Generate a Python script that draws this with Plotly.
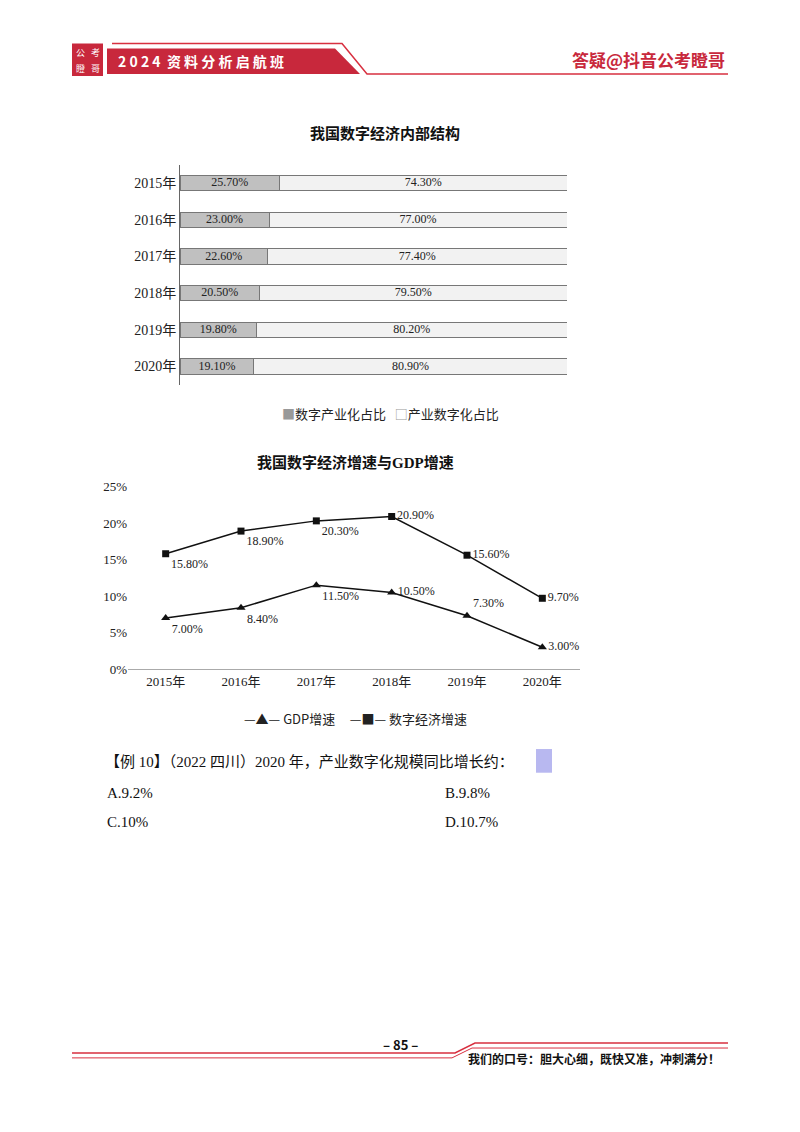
import plotly.graph_objects as go

years = ["2015年", "2016年", "2017年", "2018年", "2019年", "2020年"]
digital_industry = [25.7, 23.0, 22.6, 20.5, 19.8, 19.1]
industry_digital = [74.3, 77.0, 77.4, 79.5, 80.2, 80.9]
gdp_growth = [7.0, 8.4, 11.5, 10.5, 7.3, 3.0]
digital_growth = [15.8, 18.9, 20.3, 20.9, 15.6, 9.7]
gdp_pos = ["bottom right", "bottom right", "bottom right", "middle right", "top right", "middle right"]
dig_pos = ["bottom right", "bottom right", "bottom right", "middle right", "middle right", "middle right"]

W, H = 800, 1132
def px(x): return x / W
def py(y): return 1 - y / H

SERIF = "Liberation Serif, Noto Sans CJK SC"
SANS = "Noto Sans CJK SC"
fig = go.Figure()

fig.add_trace(go.Bar(y=years, x=digital_industry, orientation="h", name="数字产业化占比",
    marker=dict(color="#c0c0c0", line=dict(color="#777", width=1)), width=0.42,
    xaxis="x", yaxis="y"))
fig.add_trace(go.Bar(y=years, x=industry_digital, orientation="h", name="产业数字化占比",
    marker=dict(color="#f2f2f2", line=dict(color="#777", width=1)), width=0.42,
    xaxis="x", yaxis="y"))
fig.add_trace(go.Scatter(y=years, x=[v / 2 for v in digital_industry], mode="text",
    text=[f"{v:.2f}%" for v in digital_industry], textfont=dict(family=SERIF, size=12, color="#222"),
    xaxis="x", yaxis="y", cliponaxis=False))
fig.add_trace(go.Scatter(y=years, x=[a + b / 2 for a, b in zip(digital_industry, industry_digital)], mode="text",
    text=[f"{v:.2f}%" for v in industry_digital], textfont=dict(family=SERIF, size=12, color="#222"),
    xaxis="x", yaxis="y", cliponaxis=False))

fig.add_trace(go.Scatter(x=years, y=gdp_growth, mode="lines+markers+text", name="GDP增速",
    line=dict(color="#111", width=1.5), marker=dict(symbol="triangle-up", size=8, color="#111"),
    text=[f"{v:.2f}%" for v in gdp_growth], textposition=gdp_pos, cliponaxis=False,
    textfont=dict(family=SERIF, size=12, color="#222"), xaxis="x2", yaxis="y2"))
fig.add_trace(go.Scatter(x=years, y=digital_growth, mode="lines+markers+text", name="数字经济增速",
    line=dict(color="#111", width=1.5), marker=dict(symbol="square", size=7, color="#111"),
    text=[f"{v:.2f}%" for v in digital_growth], textposition=dig_pos, cliponaxis=False,
    textfont=dict(family=SERIF, size=12, color="#222"), xaxis="x2", yaxis="y2"))

shapes = []
ann = []
def A(text, x, y, size, color="#111", family=SANS, xanchor="center"):
    ann.append(dict(text=text, x=px(x), y=py(y), xref="paper", yref="paper", showarrow=False,
                    xanchor=xanchor, yanchor="middle", font=dict(family=family, size=size, color=color)))

shapes.append(dict(type="rect", xref="paper", yref="paper", x0=px(72), x1=px(103), y0=py(70), y1=py(37),
                   fillcolor="#c8283c", line=dict(width=0)))
shapes.append(dict(type="path", xref="paper", yref="paper",
    path=f"M {px(107)} {py(42)} L {px(335)} {py(42)} L {px(360)} {py(68)} L {px(107)} {py(68)} Z",
    fillcolor="#c8283c", line=dict(width=0)))
shapes.append(dict(type="path", xref="paper", yref="paper",
    path=f"M {px(112)} {py(37)} L {px(342)} {py(37)} L {px(367)} {py(68)} L {px(728)} {py(68)}",
    line=dict(color="#d83040", width=1.5)))
for (t, x, y) in [("公", 80, 46), ("考", 95, 46), ("瞪", 80, 62), ("哥", 95, 62)]:
    A(t, x, y, 9, "white")
A("<b>2 0 2 4  资 料 分 析 启 航 班</b>", 116, 55, 14, "white", xanchor="left")
A("<b>答疑@抖音公考瞪哥</b>", 727, 53, 17, "#c8283c", xanchor="right")
A("<b>我国数字经济内部结构</b>", 385, 128, 15, family=SERIF)
A("<b>我国数字经济增速与GDP增速</b>", 355, 462, 15, family=SERIF)
A("<span style='color:#999'>■</span>数字产业化占比   <span style='color:#999'>□</span>产业数字化占比", 390, 412, 13, "#222")
A("—▲— GDP增速     —■— 数字经济增速", 355, 721, 13, "#222")
shapes.append(dict(type="rect", xref="paper", yref="paper", x0=px(536), x1=px(552), y0=py(776), y1=py(752),
                   fillcolor="#b8b8f0", line=dict(width=0), layer="below"))
A("【例 10】（2022 四川）2020 年，产业数字化规模同比增长约：", 103, 765, 15, family=SERIF, xanchor="left")
for t, x, y in [("A.9.2%", 105, 797), ("B.9.8%", 443, 797), ("C.10%", 105, 826), ("D.10.7%", 443, 826)]:
    A(t, x, y, 15, family=SERIF, xanchor="left")
A("<b>– 85 –</b>", 400, 1051, 13)
shapes.append(dict(type="path", xref="paper", yref="paper",
    path=f"M {px(72)} {py(1060)} L {px(455)} {py(1060)} L {px(475)} {py(1050)} L {px(728)} {py(1050)}",
    line=dict(color="#d83040", width=1.5)))
shapes.append(dict(type="path", xref="paper", yref="paper",
    path=f"M {px(72)} {py(1065)} L {px(452)} {py(1065)} L {px(472)} {py(1055)} L {px(728)} {py(1055)}",
    line=dict(color="#d83040", width=1)))
A("<b>我们的口号：胆大心细，既快又准，冲刺满分！</b>", 722, 1066, 12, xanchor="right")

fig.update_layout(
    width=W, height=H, margin=dict(l=0, r=0, t=0, b=0, pad=0), paper_bgcolor="white", plot_bgcolor="white",
    barmode="stack", showlegend=False, shapes=shapes, annotations=ann,
    xaxis=dict(domain=[px(180), px(567)], range=[0, 100], visible=False, anchor="y"),
    yaxis=dict(domain=[py(383), py(160)], autorange="reversed", showline=True, linecolor="#666",
               ticks="", tickfont=dict(family=SERIF, size=14, color="#222"), anchor="x"),
    xaxis2=dict(domain=[px(128), px(580)], range=[-0.5, 5.5], anchor="y2", showline=True, linecolor="#aaa",
                ticks="", tickfont=dict(family=SERIF, size=13, color="#222")),
    yaxis2=dict(domain=[py(671), py(486)], range=[0, 25], dtick=5, ticksuffix="%", anchor="x2",
                showgrid=False, zeroline=False, showline=False, ticks="",
                tickfont=dict(family=SERIF, size=13, color="#222")),
)
fig.write_html("out.html", config={"displayModeBar": False})
with open("out.html", encoding="utf-8") as f:
    html = f.read()
html = html.replace("<head>", "<head><style>html,body{margin:0;padding:0;overflow:hidden}</style>", 1)
with open("out.html", "w", encoding="utf-8") as f:
    f.write(html)
